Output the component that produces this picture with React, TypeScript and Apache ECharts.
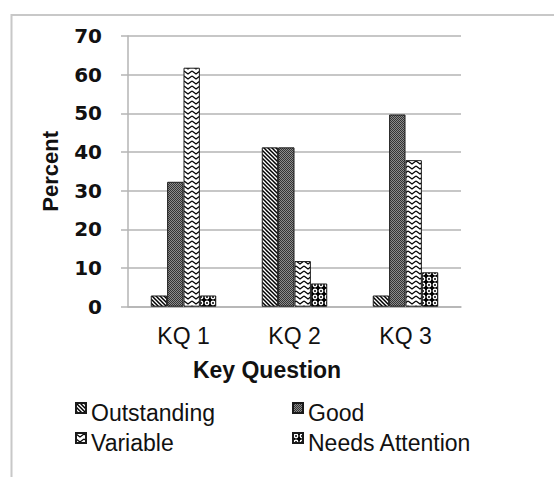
import React, { useEffect, useRef } from "react";
import * as echarts from "echarts";

const categories = ["KQ 1", "KQ 2", "KQ 3"];
const seriesNames = ["Outstanding", "Good", "Variable", "Needs Attention"];
const outstanding = [2.9, 41.2, 2.9];
const good = [32.3, 41.2, 49.7];
const variable = [61.8, 11.8, 37.9];
const needsAttention = [2.9, 6.0, 8.9];
const yMin = 0;
const yMax = 70;
const yInterval = 10;

function tile(svg: string, w: number, h: number) {
  return {
    image:
      "data:image/svg+xml;charset=utf-8," +
      encodeURIComponent(
        `<svg xmlns='http://www.w3.org/2000/svg' width='${w}' height='${h}'>${svg}</svg>`
      ),
    repeat: "repeat",
    imageWidth: w,
    imageHeight: h,
  };
}

const patterns = [
  tile(
    "<rect width='4' height='4' fill='white'/><path d='M-1,-1 L5,5 M-1,3 L1,5 M3,-1 L5,1' stroke='black' stroke-width='1.5'/>",
    4,
    4
  ),
  tile(
    "<rect width='2' height='2' fill='#8c8c8c'/><rect width='1' height='1' fill='#333'/><rect x='1' y='1' width='1' height='1' fill='#333'/>",
    2,
    2
  ),
  tile(
    "<rect width='8' height='5' fill='white'/><polyline points='0,1 4,4 8,1' fill='none' stroke='black' stroke-width='1.3'/>",
    8,
    5
  ),
  tile(
    "<rect width='6' height='6' fill='black'/><circle cx='3' cy='3' r='2.4' fill='white'/><circle cx='3' cy='3' r='1' fill='black'/>",
    6,
    6
  ),
];

const seriesData = [outstanding, good, variable, needsAttention];

export default function App() {
  const ref = useRef<HTMLDivElement>(null);
  useEffect(() => {
    if (!ref.current) return;
    const chart = echarts.init(ref.current, undefined, { renderer: "svg" });
    const legendCommon = {
      orient: "horizontal",
      padding: 0,
      itemWidth: 10,
      itemHeight: 20,
      icon: "path://M0,0h10v10h-10z M0,20",
      selectedMode: false,
      textStyle: {
        fontSize: 23,
        fontFamily: "Liberation Sans",
        color: "#111",
      },
    };
    const legendPos = [
      { left: 75, top: 401.5 },
      { left: 292, top: 401.5 },
      { left: 75, top: 431.5 },
      { left: 292, top: 431.5 },
    ];
    const gridColor = "#b4b4b4";
    chart.setOption({
      animation: false,
      backgroundColor: "#fff",
      grid: { left: 128, right: 93, top: 36, bottom: 170.3 },
      legend: seriesNames.map((n, i) => ({ ...legendCommon, ...legendPos[i], data: [n] })),
      xAxis: {
        type: "category",
        data: categories,
        name: "Key Question",
        nameLocation: "middle",
        nameGap: 52,
        nameTextStyle: {
          fontSize: 23,
          fontWeight: "bold",
          fontFamily: "Liberation Sans",
          color: "#111",
          padding: [0, 55, 0, 0],
        },
        axisLine: { show: true, lineStyle: { color: gridColor, width: 1.5 } },
        axisTick: { show: false },
        axisLabel: {
          fontSize: 23,
          fontFamily: "Liberation Sans",
          color: "#111",
          margin: 18,
        },
      },
      yAxis: {
        type: "value",
        min: yMin,
        max: yMax,
        interval: yInterval,
        name: "Percent",
        nameLocation: "middle",
        nameGap: 67,
        nameTextStyle: {
          fontSize: 22,
          fontWeight: "bold",
          fontFamily: "Liberation Sans",
          color: "#111",
        },
        axisLine: { show: true, lineStyle: { color: gridColor, width: 1.5 } },
        axisTick: { show: true, length: 7, lineStyle: { color: gridColor, width: 1.5 } },
        splitLine: { show: true, lineStyle: { color: gridColor, width: 1.5 } },
        axisLabel: {
          fontSize: 20,
          fontWeight: "bold",
          fontFamily: "DejaVu Sans",
          color: "#111",
          margin: 26,
        },
      },
      graphic: [
        {
          type: "polyline",
          silent: true,
          shape: { points: [[11.5, 477], [11.5, 15], [554, 15]] },
          style: { stroke: "#c8c8c8", lineWidth: 2, fill: "none" },
        },
      ],
      series: seriesNames.map((n, i) => ({
        name: n,
        type: "bar",
        data: seriesData[i],
        barGap: "0%",
        barCategoryGap: "41%",
        itemStyle: {
          color: patterns[i],
          borderColor: "#1a1a1a",
          borderWidth: 1,
        },
      })),
    });
    return () => chart.dispose();
  }, []);
  return (
    <div
      ref={ref}
      style={{ position: "fixed", left: 0, top: 0, width: 554, height: 477 }}
    />
  );
}
